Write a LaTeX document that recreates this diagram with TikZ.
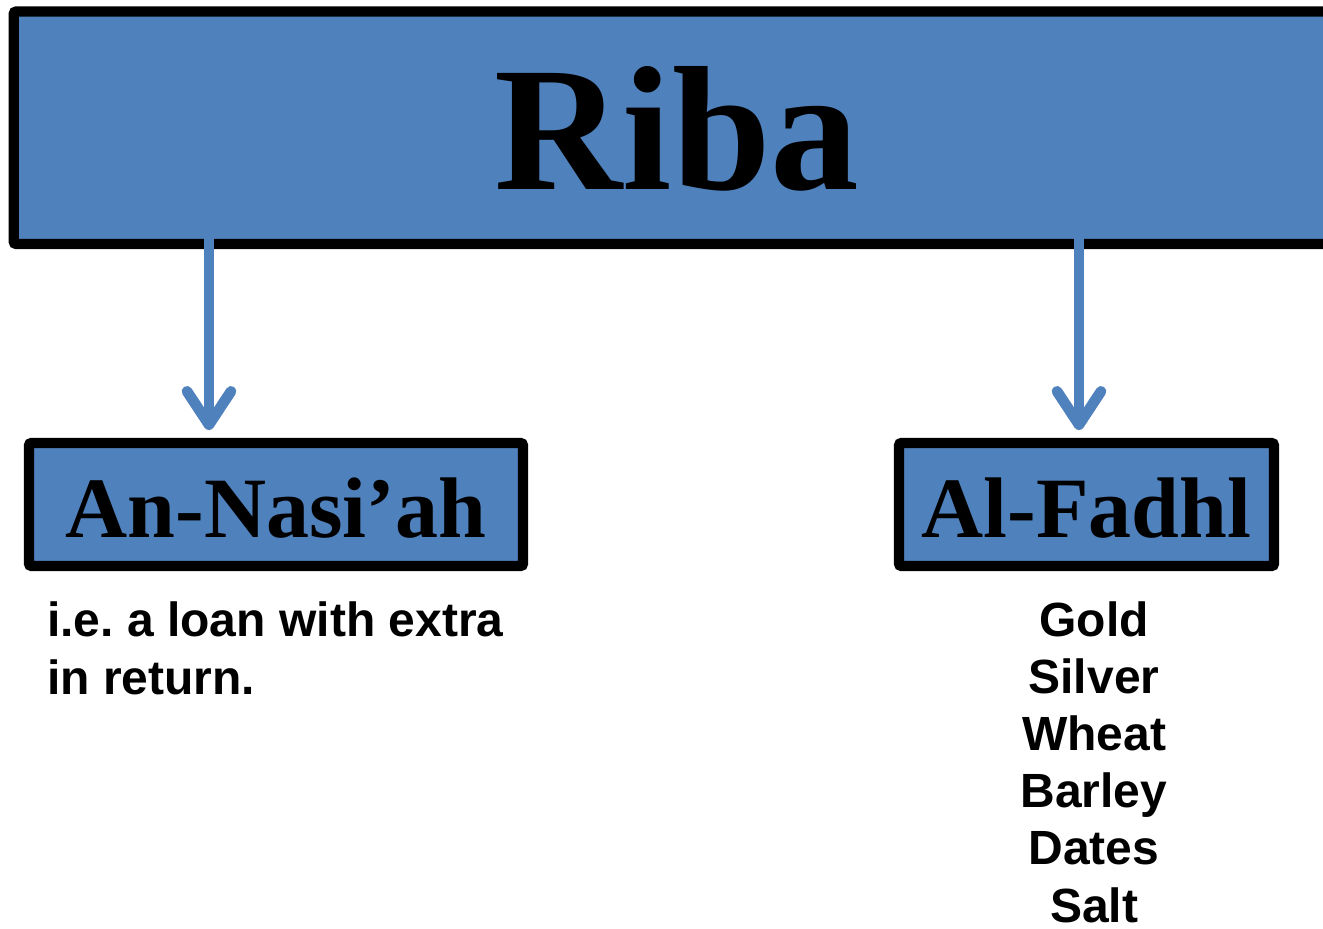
\documentclass[tikz,border=0pt]{standalone}
\usepackage{fontspec}
\setmainfont{Liberation Serif}
\setsansfont{Liberation Sans}
\usetikzlibrary{arrows.meta}
\definecolor{boxblue}{RGB}{79,129,189}
\frenchspacing
\tikzset{
  catbox/.style={draw=black, fill=boxblue, line width=7.8pt, rounded corners=2pt,
    inner sep=0pt, outer sep=0pt, font=\bfseries\rmfamily},
  flowarrow/.style={draw=boxblue, line width=8pt,
    -{Straight Barb[length=25pt, width=33pt, round]}},
  bodytext/.style={inner sep=0pt, font=\sffamily\bfseries\fontsize{36}{42.9}\selectfont}
}
\begin{document}
\begin{tikzpicture}[x=0.75pt, y=-0.75pt]
\useasboundingbox (0,0) rectangle (1323,928);
\clip (0,0) rectangle (1323,928);
\node[catbox, minimum width=1326.5*0.75pt, minimum height=232.5*0.75pt,
  font=\bfseries\rmfamily\fontsize{133}{140}\selectfont, text height=93pt, text depth=0pt]
  (riba) at (677,127.75) {Riba};
\node[catbox, minimum width=494*0.75pt, minimum height=123*0.75pt,
  font=\bfseries\rmfamily\fontsize{64.5}{70}\selectfont, text height=48.75pt, text depth=0pt]
  (nasiah) at (276,504.5) {An-Nasi’ah};
\node[catbox, minimum width=375*0.75pt, minimum height=123*0.75pt,
  font=\bfseries\rmfamily\fontsize{64.5}{70}\selectfont, text height=48.75pt, text depth=0pt]
  (fadhl) at (1086.5,504.5) {Al-Fadhl};
\coordinate (s1) at (209,232);
\coordinate (s2) at (1079,232);
\draw[flowarrow, shorten >=9.75pt] (s1) -- (s1 |- nasiah.north);
\draw[flowarrow, shorten >=9.75pt] (s2) -- (s2 |- fadhl.north);
\node[bodytext, anchor=base west, align=left] (expl) at (47,694)
  {i.e. a loan with extra\\in return.};
\node[bodytext, anchor=base, align=center] (items) at (1094,922)
  {Gold\\Silver\\Wheat\\Barley\\Dates\\Salt};
\end{tikzpicture}
\end{document}
